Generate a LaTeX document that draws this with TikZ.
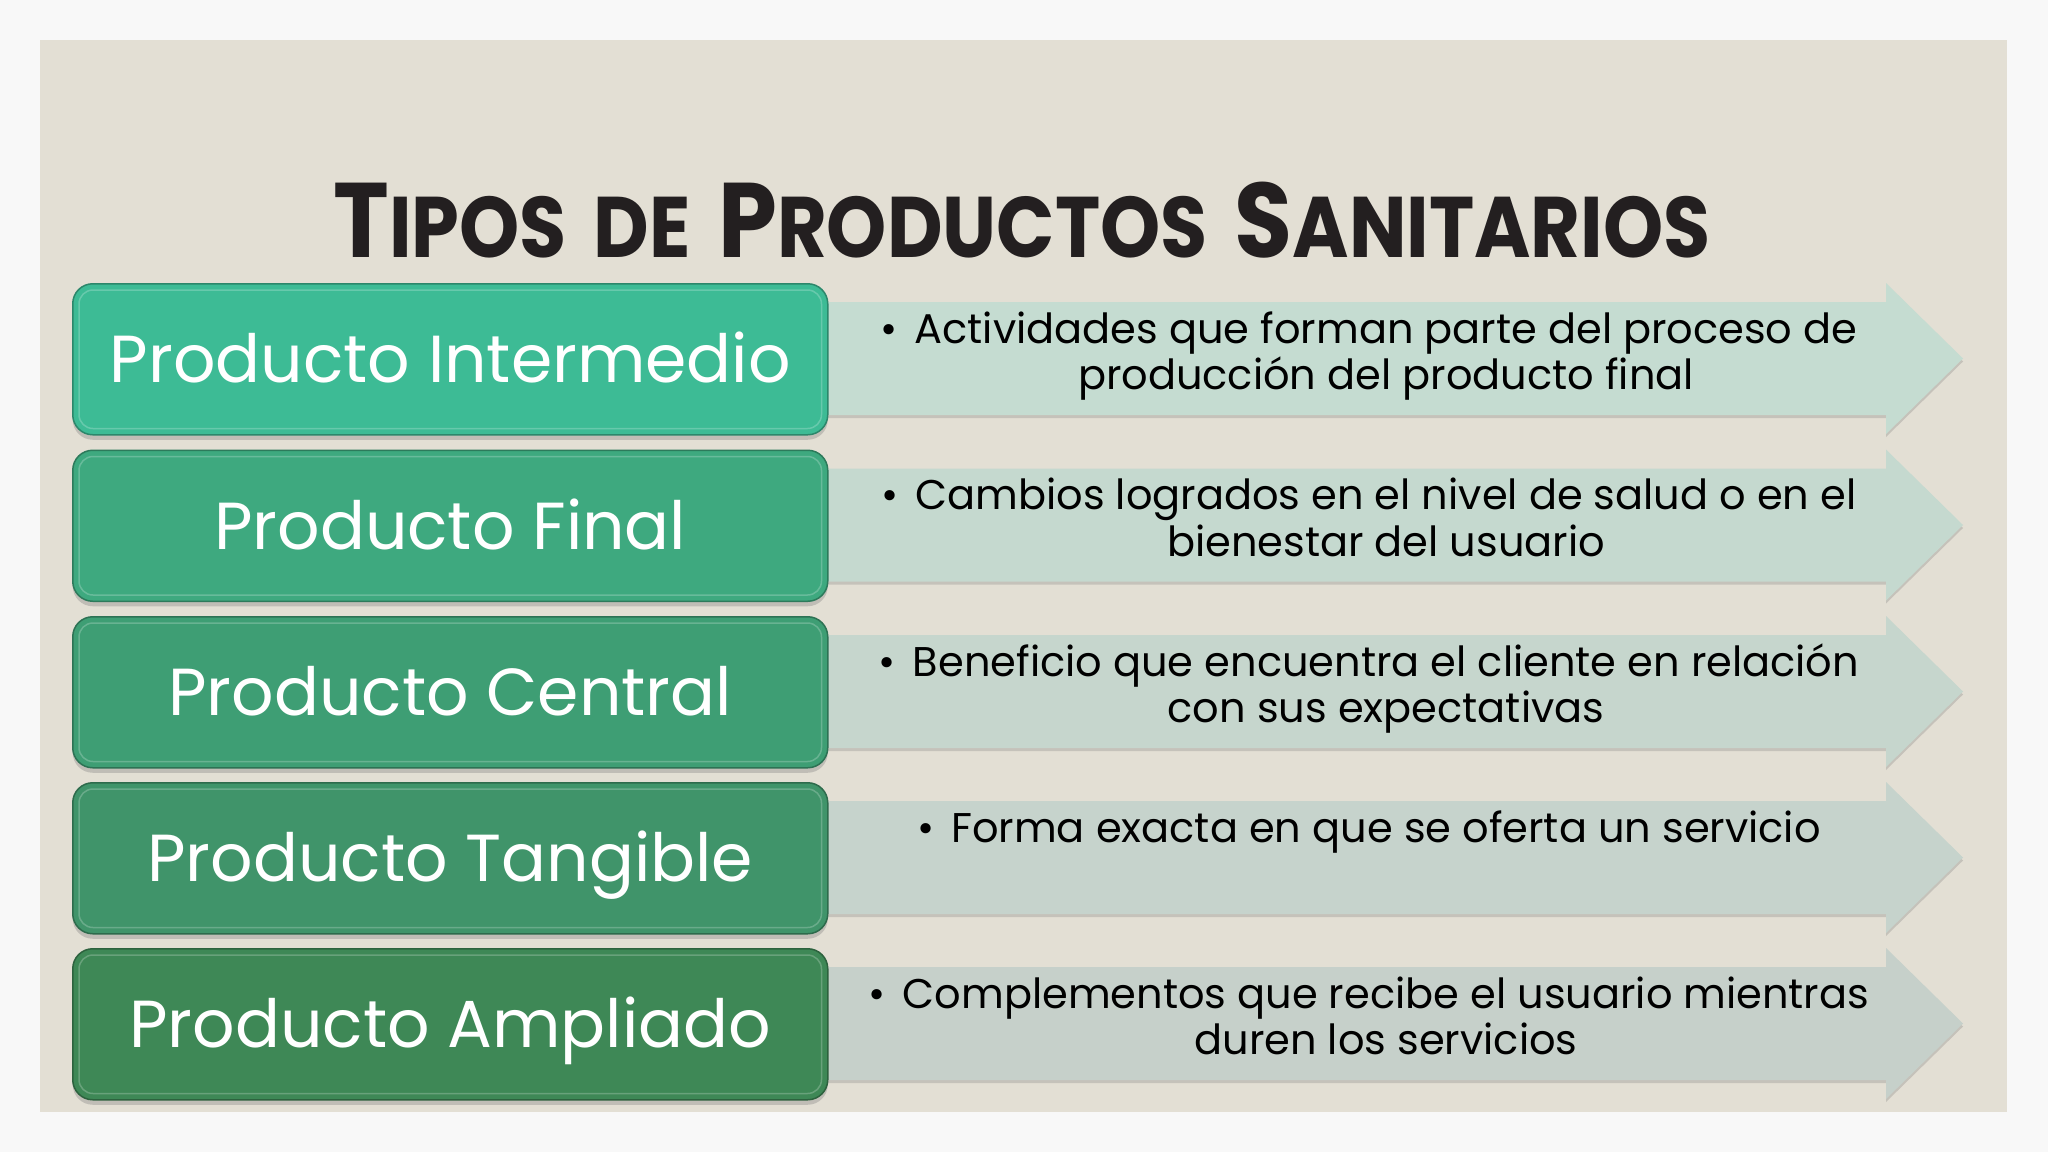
\documentclass[tikz,border=0pt]{standalone}
\usepackage{fontspec}
\setmainfont{Poppins}
\usetikzlibrary{shadows}
\definecolor{outbg}{HTML}{F8F8F8}
\definecolor{slidebg}{HTML}{E3DFD4}
\definecolor{titlecol}{HTML}{231F20}
\definecolor{gA}{HTML}{3DBB95}
\definecolor{gB}{HTML}{3EA97F}
\definecolor{gC}{HTML}{3E9E74}
\definecolor{gD}{HTML}{40946A}
\definecolor{gE}{HTML}{3E8856}
\definecolor{aA}{HTML}{C5DCD1}
\definecolor{aB}{HTML}{C5D9CF}
\definecolor{aC}{HTML}{C6D6CD}
\definecolor{aD}{HTML}{C6D3CC}
\definecolor{aE}{HTML}{C6D0CA}
\newcommand{\capL}[1]{{\fontsize{106}{106}\selectfont #1}}
\newcommand{\capS}[1]{{\fontsize{86}{86}\selectfont #1}}
\newcommand{\wgap}{\hspace{11pt}}
\newcommand{\bul}{\llap{•\hspace{17pt}}}
% #1 top y, #2 box colour, #3 arrow colour, #4 box text, #5 description, #6 index
\newcommand{\prodrow}[6]{%
  \begin{scope}[shift={(0,#1)}]
    \fill[#3, drop shadow={shadow xshift=0pt, shadow yshift=-3pt, opacity=0.3}]
      (815,19) -- (1886,19) -- (1886,0) -- (1963,75.5) -- (1886,151) -- (1886,132) -- (815,132) -- cycle;
    \node[desc] (desc#6) at (1386,60) {\begin{tabular}[t]{@{}c@{}}#5\end{tabular}};
    \node[catbox=#2] (box#6) at (72,0) {#4};
    \draw[white, opacity=0.22, line width=1.5pt, rounded corners=14pt]
      ([shift={(7pt,-7pt)}]box#6.north west) rectangle ([shift={(-7pt,7pt)}]box#6.south east);
  \end{scope}}
\begin{document}
\begin{tikzpicture}[x=1pt,y=-1pt,
  catbox/.style={draw=#1!72!black, line width=1.5pt, fill=#1, rounded corners=20pt,
     minimum width=755pt, minimum height=151pt, inner sep=0pt, anchor=north west,
     text=white, text height=47pt, text depth=0pt, font=\fontsize{66.5}{66.5}\selectfont,
     drop shadow={shadow xshift=0pt, shadow yshift=-5pt, opacity=0.35}},
  desc/.style={anchor=base, inner sep=0pt, text=black,
     font=\fontsize{41.5}{46.5}\selectfont}
]
\useasboundingbox (0,0) rectangle (2048,1152);
\fill[outbg] (0,0) rectangle (2048,1152);
\fill[slidebg] (40,40) rectangle (2007,1112);

\node[anchor=base, text=titlecol, inner sep=0pt, font=\bfseries\addfontfeature{FakeStretch=0.89}] (title) at (1022,257)
  {\capL{T}\capS{IPOS \wgap DE \wgap}\capL{P}\capS{RODUCTOS \wgap}\capL{S}\capS{ANITARIOS}};

\prodrow{283}{gA}{aA}{Producto Intermedio}{\bul Actividades que forman parte del proceso de\\producción del producto final}{1}
\prodrow{449.5}{gB}{aB}{Producto Final}{\bul Cambios logrados en el nivel de salud o en el\\bienestar del usuario}{2}
\prodrow{616}{gC}{aC}{Producto Central}{\bul Beneficio que encuentra el cliente en relación\\con sus expectativas}{3}
\prodrow{782}{gD}{aD}{Producto Tangible}{\bul Forma exacta en que se oferta un servicio}{4}
\prodrow{948}{gE}{aE}{Producto Ampliado}{\bul Complementos que recibe el usuario mientras\\duren los servicios}{5}
\end{tikzpicture}
\end{document}
